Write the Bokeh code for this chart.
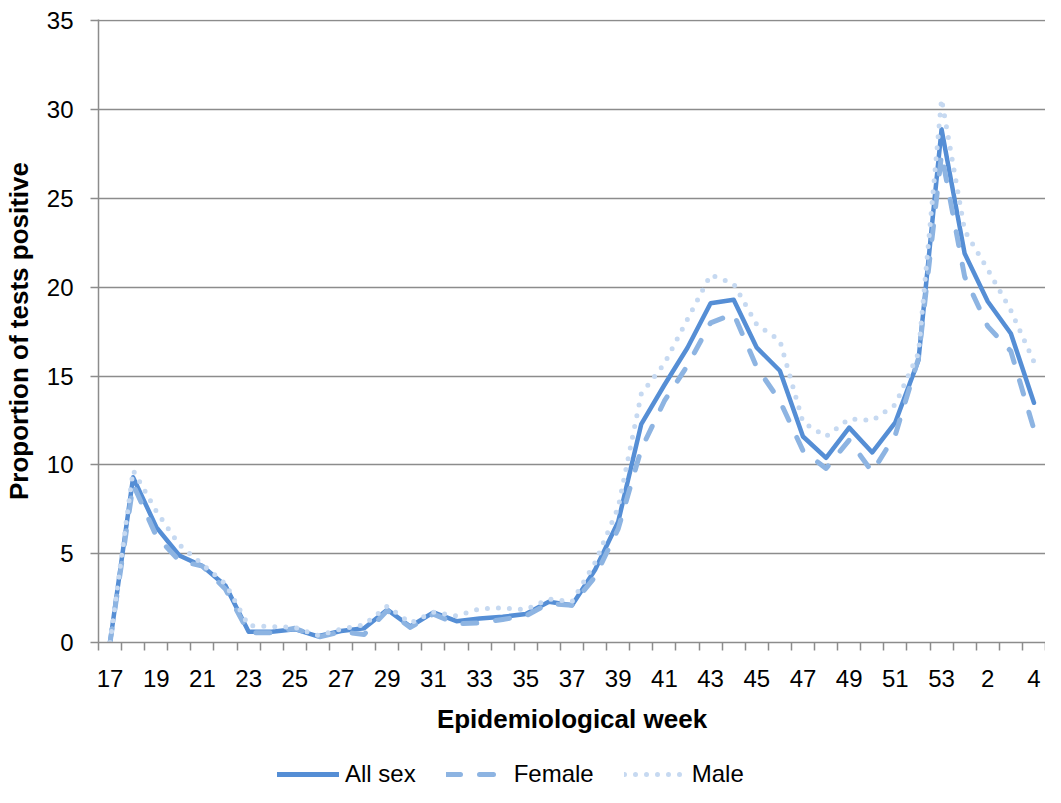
from bokeh.plotting import figure
from bokeh.models import Range1d, FixedTicker, Legend, LegendItem
from bokeh.layouts import column
from bokeh.embed import file_html
from bokeh.resources import INLINE

weeks = ["17", "18", "19", "20", "21", "22", "23", "24", "25", "26", "27", "28",
         "29", "30", "31", "32", "33", "34", "35", "36", "37", "38", "39", "40",
         "41", "42", "43", "44", "45", "46", "47", "48", "49", "50", "51", "52",
         "53", "1", "2", "3", "4"]

all_sex = [0, 9.3, 6.5, 4.9, 4.3, 3.2, 0.6, 0.6, 0.75, 0.35, 0.65, 0.8,
           1.85, 0.9, 1.7, 1.2, 1.35, 1.45, 1.6, 2.3, 2.1, 4.1, 6.8, 12.3,
           14.5, 16.6, 19.1, 19.3, 16.6, 15.3, 11.6, 10.4, 12.1, 10.7, 12.4, 15.9,
           28.9, 21.9, 19.2, 17.4, 13.5]

female = [0, 8.9, 6.0, 4.6, 4.3, 3.0, 0.55, 0.55, 0.8, 0.3, 0.6, 0.45,
          1.8, 0.85, 1.6, 1.05, 1.1, 1.3, 1.5, 2.2, 2.1, 3.7, 6.4, 10.9,
          13.6, 15.6, 18.0, 18.5, 15.5, 13.6, 10.8, 9.8, 11.4, 9.6, 11.7, 16.0,
          27.5, 20.6, 17.8, 16.4, 12.0]

male = [0, 9.7, 7.4, 5.5, 4.4, 3.3, 0.95, 0.9, 0.85, 0.4, 0.75, 1.0,
        2.05, 1.1, 1.7, 1.5, 1.9, 1.95, 1.85, 2.45, 2.3, 4.5, 7.6, 14.0,
        15.7, 18.2, 20.7, 20.2, 17.9, 17.0, 12.4, 11.6, 12.6, 12.5, 13.4, 16.3,
        30.6, 23.2, 21.0, 18.7, 15.8]

y_ticks = [0, 5, 10, 15, 20, 25, 30, 35]

FONT = "Liberation Sans"
GRAY = "#8c8c8c"
C_ALL = "#558ed5"
C_FEM = "#8db4e2"
C_MALE = "#c6d9f1"

x = list(range(len(weeks)))

p = figure(width=1045, height=745, output_backend="svg", toolbar_location=None,
           x_range=Range1d(-0.5, len(weeks) - 0.5), y_range=Range1d(0, 35.08),
           min_border_left=90, min_border_right=0, min_border_top=19,
           min_border_bottom=103)
p.outline_line_color = None
p.background_fill_color = "white"

p.line(x, all_sex, line_color=C_ALL, line_width=4.5, line_join="round",
       line_cap="round")
p.line(x, female, line_color=C_FEM, line_width=5, line_dash="14 19",
       line_join="round", line_cap="round")
p.line(x, male, line_color=C_MALE, line_width=5, line_dash="0 11",
       line_join="round", line_cap="round")

# x axis
xa = p.xaxis[0]
xa.ticker = FixedTicker(ticks=list(range(0, len(weeks), 2)),
                        minor_ticks=[i - 0.5 for i in range(len(weeks) + 1)])
xa.major_label_overrides = {i: weeks[i] for i in range(0, len(weeks), 2)}
xa.major_tick_line_color = None
xa.minor_tick_line_color = GRAY
xa.minor_tick_out = 8
xa.minor_tick_in = 0
xa.minor_tick_line_width = 1.5
xa.axis_line_color = GRAY
xa.axis_line_width = 1.5
xa.major_label_text_font = FONT
xa.major_label_text_font_size = "24px"
xa.major_label_text_color = "black"
xa.major_label_standoff = 19
xa.axis_label = "Epidemiological week"
xa.axis_label_text_font = FONT
xa.axis_label_text_font_size = "26px"
xa.axis_label_text_font_style = "bold"
xa.axis_label_text_color = "black"
xa.axis_label_standoff = 14

# y axis
ya = p.yaxis[0]
ya.ticker = FixedTicker(ticks=y_ticks)
ya.minor_tick_line_color = None
ya.major_tick_line_color = GRAY
ya.major_tick_out = 8
ya.major_tick_in = 0
ya.major_tick_line_width = 1.5
ya.axis_line_color = GRAY
ya.axis_line_width = 1.5
ya.major_label_text_font = FONT
ya.major_label_text_font_size = "24px"
ya.major_label_text_color = "black"
ya.major_label_standoff = 17
ya.axis_label = "Proportion of tests positive"
ya.axis_label_text_font = FONT
ya.axis_label_text_font_size = "26px"
ya.axis_label_text_font_style = "bold"
ya.axis_label_text_color = "black"
ya.axis_label_standoff = 10

p.xgrid.grid_line_color = None
p.ygrid.ticker = FixedTicker(ticks=y_ticks)
p.ygrid.grid_line_color = GRAY
p.ygrid.grid_line_width = 1.5

# legend strip below the chart (series drawn out of view; only legend shows)
lf = figure(width=1045, height=42, output_backend="svg", toolbar_location=None,
            x_axis_type=None, y_axis_type=None,
            x_range=Range1d(-0.5, len(weeks) - 0.5), y_range=Range1d(-20, -10),
            min_border=0)
lf.grid.grid_line_color = None
lf.outline_line_color = None
l_all = lf.line(x, all_sex, line_color=C_ALL, line_width=5, line_cap="round")
l_fem = lf.line(x, female, line_color=C_FEM, line_width=5, line_dash="14 19",
                line_cap="round")
l_male = lf.line(x, male, line_color=C_MALE, line_width=5, line_dash="0 11",
                 line_cap="round")
legend = Legend(items=[LegendItem(label="All sex", renderers=[l_all]),
                       LegendItem(label="Female", renderers=[l_fem]),
                       LegendItem(label="Male", renderers=[l_male])],
                orientation="horizontal", location=(179, -1),
                label_text_font=FONT, label_text_font_size="24px",
                label_text_color="black", glyph_width=62, glyph_height=24,
                label_standoff=6, spacing=30, padding=0, margin=0,
                border_line_color=None, background_fill_alpha=0)
lf.add_layout(legend, "center")

layout = column(p, lf, spacing=0)
open("out.html", "w").write(file_html(layout, INLINE))
